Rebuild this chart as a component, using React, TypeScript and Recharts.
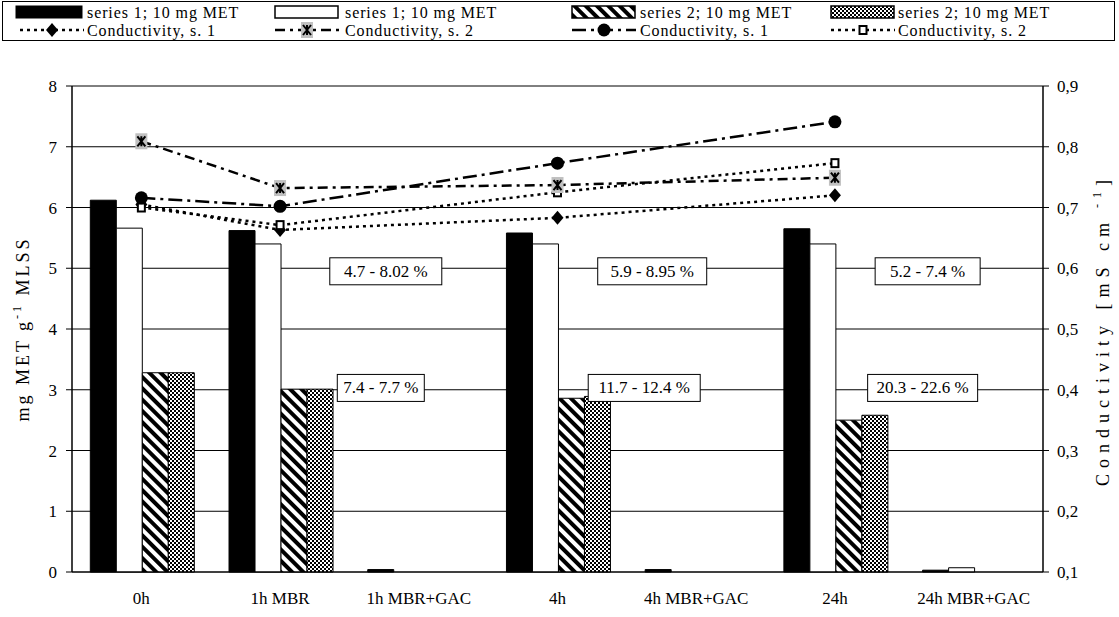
import { Bar, CartesianGrid, ComposedChart, Line, ReferenceDot, XAxis, YAxis } from "recharts";

const categories = ["0h", "1h MBR", "1h MBR+GAC", "4h", "4h MBR+GAC", "24h", "24h MBR+GAC"];

// mg MET g-1 MLSS (left axis)
const s1Black = [6.12, 5.62, 0.04, 5.58, 0.04, 5.65, 0.03];
const s1White = [5.66, 5.4, null, 5.4, null, 5.4, 0.07];
const s2Hatched = [3.28, 3.01, null, 2.86, null, 2.5, null];
const s2Dotted = [3.28, 3.01, null, 2.89, null, 2.58, null];

// conductivity mS cm-1 (right axis)
const condS1Diamond = [0.705, 0.663, null, 0.683, null, 0.72, null];
const condS2Star = [0.809, 0.732, null, 0.737, null, 0.749, null];
const condS1Circle = [0.716, 0.702, null, 0.773, null, 0.841, null];
const condS2Square = [0.7, 0.671, null, 0.725, null, 0.773, null];

const leftTicks = [0, 1, 2, 3, 4, 5, 6, 7, 8];
const rightTicks = [0.1, 0.2, 0.3, 0.4, 0.5, 0.6, 0.7, 0.8, 0.9];

const rangeLabels = [
  { cat: "1h MBR+GAC", text: "4.7 - 8.02 %", y: 4.95 },
  { cat: "4h MBR+GAC", text: "5.9 - 8.95 %", y: 4.95 },
  { cat: "24h MBR+GAC", text: "5.2 - 7.4 %", y: 4.95 },
  { cat: "1h MBR+GAC", text: "7.4 - 7.7 %", y: 3.03 },
  { cat: "4h MBR+GAC", text: "11.7 - 12.4 %", y: 3.03 },
  { cat: "24h MBR+GAC", text: "20.3 - 22.6 %", y: 3.03 },
];
// box offset/width for each range label
const boxLayout = [
  { dx: -33, w: 112 }, { dx: -44, w: 109 }, { dx: -46, w: 105 },
  { dx: -38, w: 87 }, { dx: -52, w: 112 }, { dx: -51, w: 110 },
];

const data = categories.map((c, i) => ({
  cat: c,
  b1: s1Black[i], w1: s1White[i], h2: s2Hatched[i], d2: s2Dotted[i],
  cd1: condS1Diamond[i], cs2: condS2Star[i], cc1: condS1Circle[i], cq2: condS2Square[i],
}));

const FONT = "Liberation Serif";

const Diamond = ({ cx, cy }: { cx: number; cy: number }) => (
  <path d={`M${cx},${cy - 7} L${cx + 6},${cy} L${cx},${cy + 7} L${cx - 6},${cy} Z`} fill="#000" />
);
const Star = ({ cx, cy }: { cx: number; cy: number }) => (
  <g>
    <rect x={cx - 6} y={cy - 8} width={12} height={16} fill="#c0c0c0" />
    <path d={`M${cx - 4},${cy - 5} L${cx + 4},${cy + 5} M${cx + 4},${cy - 5} L${cx - 4},${cy + 5} M${cx},${cy - 5} L${cx},${cy + 5}`} stroke="#000" strokeWidth={2} />
  </g>
);
const Circle = ({ cx, cy }: { cx: number; cy: number }) => <circle cx={cx} cy={cy} r={6.5} fill="#000" />;
const Square = ({ cx, cy }: { cx: number; cy: number }) => (
  <rect x={cx - 3.5} y={cy - 4} width={7} height={8} fill="#fff" stroke="#000" strokeWidth={2} />
);

const dotOf = (Shape: any) => (p: any) => {
  if (p.cx == null || p.cy == null || p.value == null) return <g key={p.index} />;
  return <Shape key={p.index} cx={p.cx} cy={p.cy} />;
};

const DOTTED = "3 4";
const DASHDOT = "10 5 3 5";
const LONGDASHDOT = "14 5 3 5";

function LegendOverlay() {
  const row1 = 12;
  const row2 = 30;
  const cols = [16, 275, 572, 831];
  const txt = (x: number, y: number, s: string) => (
    <text x={x} y={y} dominantBaseline="central" fontSize={16} letterSpacing={0.9} style={{ fontFamily: FONT }} fill="#000">{s}</text>
  );
  const lineSample = (x: number, dash: string, Shape: any) => (
    <g>
      <line x1={x} y1={row2} x2={x + 64} y2={row2} stroke="#000" strokeWidth={2.5} strokeDasharray={dash} />
      <Shape cx={x + 32} cy={row2} />
    </g>
  );
  return (
    <svg width={1119} height={617} style={{ position: "absolute", left: 0, top: 0, pointerEvents: "none" }}>
      <rect x={2.5} y={1.5} width={1112} height={39} fill="none" stroke="#000" strokeWidth={1} />
      <rect x={cols[0]} y={row1 - 6} width={66} height={12} fill="#000" stroke="#000" />
      {txt(cols[0] + 71, row1, "series 1; 10 mg MET")}
      <rect x={cols[1]} y={row1 - 6} width={63} height={12} fill="#fff" stroke="#000" strokeWidth={1.5} />
      {txt(cols[1] + 70, row1, "series 1; 10 mg MET")}
      <rect x={cols[2]} y={row1 - 6} width={63} height={12} fill="url(#hatch)" stroke="#000" strokeWidth={1.5} />
      {txt(cols[2] + 68, row1, "series 2; 10 mg MET")}
      <rect x={cols[3]} y={row1 - 6} width={63} height={12} fill="url(#dots)" stroke="#000" strokeWidth={1.5} />
      {txt(cols[3] + 67, row1, "series 2; 10 mg MET")}
      {lineSample(cols[0] + 4, DOTTED, Diamond)}
      {txt(cols[0] + 71, row2, "Conductivity, s. 1")}
      {lineSample(cols[1], DASHDOT, Star)}
      {txt(cols[1] + 70, row2, "Conductivity, s. 2")}
      {lineSample(cols[2], LONGDASHDOT, Circle)}
      {txt(cols[2] + 68, row2, "Conductivity, s. 1")}
      {lineSample(cols[3], DOTTED, Square)}
      {txt(cols[3] + 67, row2, "Conductivity, s. 2")}
      <text transform="translate(23,329) rotate(-90)" textAnchor="middle" dominantBaseline="central" fontSize={18} style={{ fontFamily: FONT }} letterSpacing={3}>
        mg MET g<tspan dy={-6} fontSize={12}>-1</tspan><tspan dy={6}> MLSS</tspan>
      </text>
      <text transform="translate(1103,330) rotate(-90)" textAnchor="middle" dominantBaseline="central" fontSize={18} style={{ fontFamily: FONT }} letterSpacing={6}>
        Conductivity [mS cm<tspan dy={-6} fontSize={12}> -1</tspan><tspan dy={6}>]</tspan>
      </text>
    </svg>
  );
}

export default function App() {
  const tickStyle = { fontSize: 17, fill: "#000", fontFamily: FONT };
  return (
    <div style={{ position: "relative", width: 1119, height: 617, background: "#fff", fontFamily: FONT }}>
      <style>{`body{margin:0} svg text{font-family:"Liberation Serif"}`}</style>
      <ComposedChart
        width={1119}
        height={617}
        data={data}
        margin={{ top: 86, right: 10, left: 12, bottom: 0 }}
        barCategoryGap="13.2%"
        barGap={0}
      >
        <defs>
          <pattern id="hatch" width={8} height={8} patternUnits="userSpaceOnUse" patternTransform="rotate(-45)">
            <rect width={8} height={8} fill="#fff" />
            <rect width={4} height={8} fill="#000" />
          </pattern>
          <pattern id="dots" width={4} height={4} patternUnits="userSpaceOnUse">
            <rect width={4} height={4} fill="#fff" />
            <rect width={2} height={2} fill="#000" />
            <rect x={2} y={2} width={2} height={2} fill="#000" />
          </pattern>
        </defs>
        <CartesianGrid yAxisId="left" vertical={false} stroke="#000" strokeWidth={1} />
        <XAxis
          dataKey="cat"
          height={45}
          tickLine={false}
          axisLine={{ stroke: "#000" }}
          tick={tickStyle}
          interval={0}
          tickMargin={14}
        />
        <YAxis
          yAxisId="left"
          domain={[0, 8]}
          ticks={leftTicks}
          width={60}
          axisLine={{ stroke: "#000", strokeWidth: 1.5 }}
          tickLine={{ stroke: "#000" }}
          tickSize={6}
          tickMargin={9}
          tick={tickStyle}
          interval={0}
        />
        <YAxis
          yAxisId="right"
          orientation="right"
          domain={[0.1, 0.9]}
          ticks={rightTicks}
          width={66}
          axisLine={{ stroke: "#000", strokeWidth: 1.5 }}
          tickLine={{ stroke: "#000" }}
          tickSize={6}
          tickMargin={8}
          tick={tickStyle}
          tickFormatter={(v: number) => v.toFixed(1).replace(".", ",")}
          interval={0}
        />
        <Bar yAxisId="left" dataKey="b1" fill="#000" stroke="#000" isAnimationActive={false} />
        <Bar yAxisId="left" dataKey="w1" fill="#fff" stroke="#000" isAnimationActive={false} />
        <Bar yAxisId="left" dataKey="h2" fill="url(#hatch)" stroke="#000" isAnimationActive={false} />
        <Bar yAxisId="left" dataKey="d2" fill="url(#dots)" stroke="#000" isAnimationActive={false} />
        <Line yAxisId="right" dataKey="cd1" stroke="#000" strokeWidth={2.5} strokeDasharray={DOTTED} connectNulls dot={dotOf(Diamond)} activeDot={false} isAnimationActive={false} />
        <Line yAxisId="right" dataKey="cq2" stroke="#000" strokeWidth={2.5} strokeDasharray={DOTTED} connectNulls dot={dotOf(Square)} activeDot={false} isAnimationActive={false} />
        <Line yAxisId="right" dataKey="cc1" stroke="#000" strokeWidth={2.5} strokeDasharray={LONGDASHDOT} connectNulls dot={dotOf(Circle)} activeDot={false} isAnimationActive={false} />
        <Line yAxisId="right" dataKey="cs2" stroke="#000" strokeWidth={2.5} strokeDasharray={DASHDOT} connectNulls dot={dotOf(Star)} activeDot={false} isAnimationActive={false} />
        {rangeLabels.map((r, i) => (
          <ReferenceDot
            key={i}
            yAxisId="left"
            x={r.cat}
            y={r.y}
            shape={(p: any) => (
              <g>
                <rect x={p.cx + boxLayout[i].dx - boxLayout[i].w / 2} y={p.cy - 13.5} width={boxLayout[i].w} height={27} fill="#fff" stroke="#000" strokeWidth={1} />
                <text x={p.cx + boxLayout[i].dx} y={p.cy} textAnchor="middle" dominantBaseline="central" fontSize={17} fill="#000">{r.text}</text>
              </g>
            )}
          />
        ))}
      </ComposedChart>
      <LegendOverlay />
    </div>
  );
}
